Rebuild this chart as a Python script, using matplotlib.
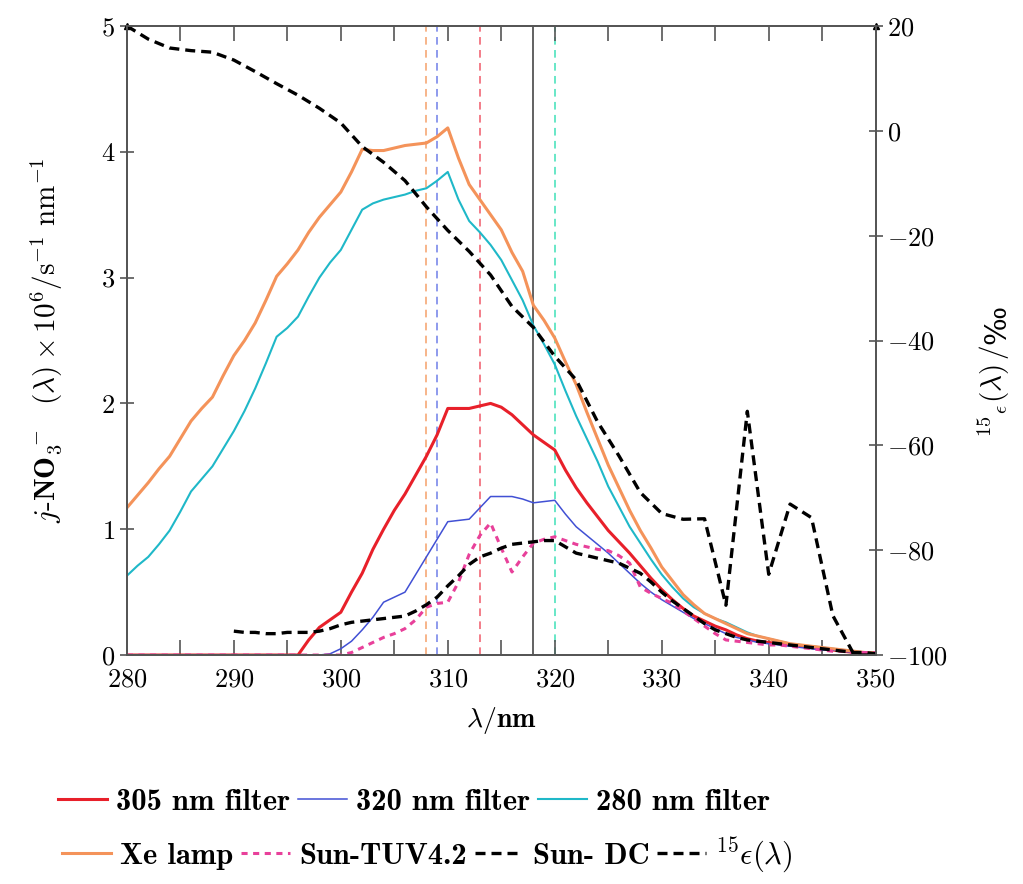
import numpy as np
import matplotlib
matplotlib.use('Agg')
import matplotlib.pyplot as plt

plt.rcParams['font.family'] = ['cmr10', 'DejaVu Serif']
plt.rcParams['mathtext.fontset'] = 'cm'
plt.rcParams['axes.formatter.use_mathtext'] = True

# longueurs d'onde (nm)
wl = np.arange(280, 351)
wl_dc = np.arange(290, 351)
wl_eps = np.arange(280, 351, 2)

xe_lamp = [1.17, 1.27, 1.37, 1.48, 1.58, 1.72, 1.86, 1.96, 2.05, 2.22,
           2.38, 2.50, 2.64, 2.82, 3.01, 3.11, 3.22, 3.36, 3.48, 3.58,
           3.68, 3.84, 4.02, 4.01, 4.01, 4.03, 4.05, 4.06, 4.07, 4.12,
           4.19, 3.95, 3.74, 3.62, 3.50, 3.38, 3.20, 3.05, 2.78, 2.66,
           2.52, 2.33, 2.15, 1.93, 1.72, 1.51, 1.33, 1.15, 0.99, 0.85,
           0.70, 0.59, 0.48, 0.40, 0.33, 0.29, 0.25, 0.21, 0.17, 0.15,
           0.13, 0.11, 0.09, 0.08, 0.07, 0.06, 0.05, 0.04, 0.03, 0.02, 0.02]

filt_280 = [0.63, 0.71, 0.78, 0.88, 0.99, 1.14, 1.30, 1.40, 1.50, 1.64,
            1.78, 1.94, 2.12, 2.32, 2.53, 2.60, 2.69, 2.85, 3.00, 3.12,
            3.22, 3.38, 3.54, 3.59, 3.62, 3.64, 3.66, 3.69, 3.71, 3.77,
            3.84, 3.62, 3.45, 3.36, 3.26, 3.14, 2.98, 2.82, 2.62, 2.47,
            2.31, 2.10, 1.90, 1.72, 1.54, 1.34, 1.18, 1.02, 0.89, 0.76,
            0.64, 0.54, 0.45, 0.38, 0.33, 0.29, 0.26, 0.22, 0.18, 0.15,
            0.13, 0.11, 0.09, 0.08, 0.07, 0.06, 0.05, 0.04, 0.03, 0.02, 0.02]

filt_305 = [0, 0, 0, 0, 0, 0, 0, 0, 0, 0,
            0, 0, 0, 0, 0, 0, 0.0, 0.12, 0.22, 0.28,
            0.34, 0.50, 0.65, 0.84, 1.00, 1.15, 1.28, 1.43, 1.58, 1.75,
            1.96, 1.96, 1.96, 1.98, 2.00, 1.97, 1.91, 1.83, 1.75, 1.69,
            1.63, 1.47, 1.33, 1.21, 1.10, 0.99, 0.90, 0.81, 0.71, 0.61,
            0.52, 0.44, 0.37, 0.31, 0.27, 0.23, 0.20, 0.16, 0.13, 0.11,
            0.10, 0.09, 0.08, 0.07, 0.06, 0.05, 0.04, 0.03, 0.02, 0.02, 0.01]

filt_320 = [0, 0, 0, 0, 0, 0, 0, 0, 0, 0,
            0, 0, 0, 0, 0, 0, 0, 0, 0, 0.01,
            0.05, 0.11, 0.20, 0.30, 0.42, 0.46, 0.50, 0.64, 0.78, 0.92,
            1.06, 1.07, 1.08, 1.17, 1.26, 1.26, 1.26, 1.24, 1.21, 1.22,
            1.23, 1.12, 1.02, 0.95, 0.88, 0.81, 0.73, 0.65, 0.57, 0.50,
            0.44, 0.39, 0.34, 0.29, 0.25, 0.21, 0.17, 0.14, 0.12, 0.10,
            0.09, 0.08, 0.07, 0.06, 0.05, 0.04, 0.04, 0.03, 0.02, 0.02, 0.01]

sun_tuv = [0, 0, 0, 0, 0, 0, 0, 0, 0, 0,
           0, 0, 0, 0, 0, 0, 0, 0, 0, 0,
           0.0, 0.02, 0.06, 0.10, 0.14, 0.17, 0.21, 0.28, 0.38, 0.41,
           0.42, 0.58, 0.80, 0.95, 1.05, 0.85, 0.66, 0.78, 0.89, 0.92,
           0.94, 0.91, 0.88, 0.86, 0.84, 0.83, 0.79, 0.73, 0.54, 0.49,
           0.45, 0.41, 0.35, 0.29, 0.23, 0.17, 0.12, 0.11, 0.10, 0.09,
           0.08, 0.08, 0.07, 0.06, 0.05, 0.04, 0.03, 0.03, 0.02, 0.02, 0.02]

sun_dc = [0.19, 0.18, 0.18, 0.17, 0.17, 0.18, 0.18, 0.18, 0.19, 0.21,
          0.24, 0.26, 0.27, 0.28, 0.29, 0.30, 0.31, 0.35, 0.40, 0.46,
          0.55, 0.63, 0.72, 0.78, 0.81, 0.85, 0.88, 0.89, 0.90, 0.91,
          0.91, 0.86, 0.81, 0.79, 0.77, 0.75, 0.73, 0.69, 0.65, 0.58,
          0.50, 0.43, 0.37, 0.31, 0.25, 0.20, 0.17, 0.14, 0.12, 0.11,
          0.10, 0.09, 0.08, 0.07, 0.06, 0.05, 0.04, 0.03, 0.02, 0.02, 0.01]

eps15 = [20, 17.5, 15.8, 15.3, 15.0, 13.5, 11.3, 9.0, 6.8, 4.3,
         1.5, -3.0, -6.0, -9.5, -14.5, -19.0, -23.0, -27.5, -33.5, -37.5,
         -43.0, -47.5, -55.5, -62.0, -69.0, -73.0, -74.1, -74.0, -90.5, -53.5,
         -84.6, -71.2, -73.8, -92.5, -100, -100]

# lignes verticales (longueurs d'onde des maxima)
vlines_x = [308, 309, 313, 318, 320]
vlines_c = ['#f5a06a', '#6f7fe8', '#f05a6a', '#555555', '#3ee0b8']

fig = plt.figure(figsize=(10.23, 8.84), dpi=100)
ax = fig.add_axes([0.124, 0.259, 0.732, 0.7116])
ax2 = ax.twinx()

for x, c in zip(vlines_x, vlines_c):
    if c == '#555555':
        ax.axvline(x, color=c, lw=1.3, zorder=1)
    else:
        ax.axvline(x, color=c, lw=1.1, ls=(0, (5, 3.5)), zorder=1)

l_305, = ax.plot(wl, filt_305, color='#e8202a', lw=2.2, label='305 nm filter')
l_320, = ax.plot(wl, filt_320, color='#4150d4', lw=1.1, label='320 nm filter')
l_280, = ax.plot(wl, filt_280, color='#1fb8c8', lw=1.5, label='280 nm filter')
l_xe, = ax.plot(wl, xe_lamp, color='#f4935a', lw=2.2, label='Xe lamp')
l_tuv, = ax.plot(wl, sun_tuv, color='#e8409a', lw=2.2, ls=(0, (2.0, 1.8)), label='Sun-TUV4.2')
l_dc, = ax.plot(wl_dc, sun_dc, color='black', lw=2.4, ls=(0, (3, 1.8)), label='Sun- DC')
l_eps, = ax2.plot(wl_eps, eps15, color='black', lw=2.4, ls=(0, (3, 1.8)),
                  label=r'$^{15}\epsilon(\lambda)$')

ax.set_xlim(280, 350)
ax.set_ylim(0, 5)
ax2.set_ylim(-100, 20)
ax.set_xticks(range(280, 351, 10))
ax.set_xticks(range(285, 350, 10), minor=True)
ax.set_yticks(range(0, 6))
ax2.set_yticks(range(-100, 21, 20))

for a in (ax, ax2):
    for s in a.spines.values():
        s.set_color('#555555')
        s.set_linewidth(1.3)

ax.tick_params(axis='x', which='both', direction='in', top=True, length=11,
               width=1.2, color='#555555', labelsize=19, pad=9)
ax.tick_params(axis='y', direction='inout', length=10, width=1.2,
               color='#555555', labelsize=19)
ax2.tick_params(axis='y', direction='inout', length=10, width=1.2,
                color='#555555', labelsize=19)

# petites fleches en haut des axes
ax.plot([0, 1], [1, 1], marker='^', ls='none', color='black', ms=5,
        transform=ax.transAxes, clip_on=False)

ax.set_xlabel(r'$\lambda/\mathbf{nm}$', fontsize=20, labelpad=10)
ax.set_ylabel(r'$j$-$\mathbf{NO}_3^{\ -}$  $(\lambda)\times\mathbf{10}^{\mathbf{6}}/\mathrm{s}^{-1}\ \mathrm{nm}^{-1}$',
              fontsize=21, labelpad=26)
ax2.set_ylabel(r'$^{15}{}_{\epsilon}(\lambda)\,/$', fontsize=21, labelpad=20)
ax2.yaxis.label.set_y(0.42)

# legendes en bas, deux lignes
leg_kw = dict(frameon=False, handlelength=1.6, handletextpad=0.3,
              columnspacing=0.25, prop={'family': ['cmb10', 'DejaVu Serif'], 'size': 22})
fig.legend(handles=[l_305, l_320, l_280], loc='lower left', ncol=3,
           bbox_to_anchor=(0.03, 0.046), **leg_kw)
fig.legend(handles=[l_xe, l_tuv, l_dc, l_eps], loc='lower left', ncol=4,
           bbox_to_anchor=(0.034, -0.021), **leg_kw)

# le signe pour mille, ajoute au bout de l'etiquette de droite
fig.canvas.draw()
bb = ax2.yaxis.label.get_window_extent(fig.canvas.get_renderer())
W, H = fig.get_size_inches() * fig.dpi
fig.text((bb.x0 + bb.x1) / 2 / W + 0.003, bb.y1 / H, '‰', rotation=90,
         ha='center', va='bottom', fontsize=21, family='DejaVu Serif')

fig.savefig('out.png', dpi=100)
